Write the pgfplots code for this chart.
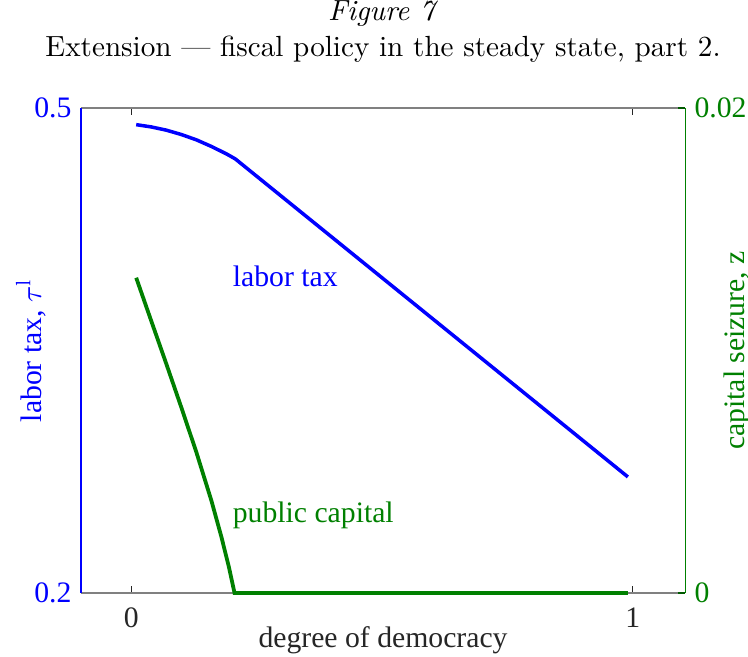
\documentclass[border=0pt]{standalone}
\usepackage{fontspec}
\usepackage{pgfplots}
\pgfplotsset{compat=1.18}
\newfontfamily\tnr{Liberation Serif}
\definecolor{mblue}{RGB}{0,0,255}
\definecolor{mgreen}{RGB}{0,128,0}
\definecolor{txtgray}{RGB}{38,38,38}
\begin{document}
\begin{tikzpicture}
\begin{axis}[
  scale only axis, width=223.7pt, height=179.6pt,
  xmin=-0.1, xmax=1.104, ymin=0.2, ymax=0.5,
  axis x line*=box, axis y line*=left,
  x axis line style={gray, line width=0.4pt, -},
  y axis line style={mblue, line width=0.4pt, -},
  tick align=inside, major tick length=2.5pt,
  xtick={0,1}, xticklabels={0,1}, xtick pos=both,
  ytick={0.2,0.5}, yticklabels={0.2,0.5},
  x tick style={txtgray, line width=0.4pt},
  y tick style={mblue, line width=0.4pt},
  /pgf/number format/assume math mode=true,
  xticklabel style={font=\fontsize{11}{13}\selectfont\tnr, text=txtgray, yshift=-2pt},
  yticklabel style={font=\fontsize{11}{13}\selectfont\tnr, text=mblue},
  xlabel={degree of democracy},
  xlabel style={font=\fontsize{11}{13}\selectfont\tnr, text=txtgray, at={(axis description cs:0.5,-0.097)}, anchor=center},
  ylabel={labor tax, $\tau^{\mathrm{l}}$},
  ylabel style={font=\fontsize{11}{13}\selectfont\tnr, text=mblue, at={(axis description cs:-0.083,0.5)}, anchor=center},
  title={\textit{Figure 7}\\Extension --- fiscal policy in the steady state, part 2.},
  title style={align=center, font=\fontsize{10.8}{13}\selectfont, at={(axis description cs:0.5,1)}, anchor=south, yshift=7.5pt},
  clip=false,
]
\addplot[mblue, line width=1.3pt] coordinates {
  (0.01,0.4897) (0.04,0.4883) (0.07,0.4863) (0.10,0.4836) (0.13,0.4803) (0.16,0.4762) (0.19,0.4716) (0.2076,0.4685) (0.99,0.2718)
};
\node[anchor=west, inner sep=0pt, text=mblue, font=\fontsize{11}{13}\selectfont\tnr] at (axis cs:0.2016,0.3961) {labor tax};
\node[anchor=west, inner sep=0pt, text=mgreen, font=\fontsize{11}{13}\selectfont\tnr] at (axis cs:0.2016,0.2482) {public capital};
\end{axis}
\begin{axis}[
  scale only axis, width=223.7pt, height=179.6pt,
  xmin=-0.1, xmax=1.104, ymin=0, ymax=0.02,
  axis x line=none, axis y line*=right,
  y axis line style={mgreen, line width=0.4pt, -},
  tick align=inside, major tick length=2.5pt,
  ytick={0,0.02}, yticklabels={0,0.02}, scaled y ticks=false,
  y tick style={mgreen!70!black, line width=0.4pt},
  /pgf/number format/assume math mode=true,
  yticklabel style={font=\fontsize{11}{13}\selectfont\tnr, text=mgreen},
  ylabel={capital seizure, z},
  ylabel style={font=\fontsize{11}{13}\selectfont\tnr, text=mgreen, at={(axis description cs:1.086,0.5)}, anchor=center},
  clip=false,
]
\addplot[mgreen, line width=1.4pt] coordinates {
  (0.01,0.0130) (0.04,0.01122) (0.07,0.00945) (0.10,0.00765) (0.13,0.00580) (0.16,0.00380) (0.18,0.00230) (0.195,0.00105) (0.206,0) (0.99,0)
};
\end{axis}
\pgfresetboundingbox
\path (-30pt,-23.7pt) rectangle (247pt,219.6pt);
\end{tikzpicture}
\end{document}
